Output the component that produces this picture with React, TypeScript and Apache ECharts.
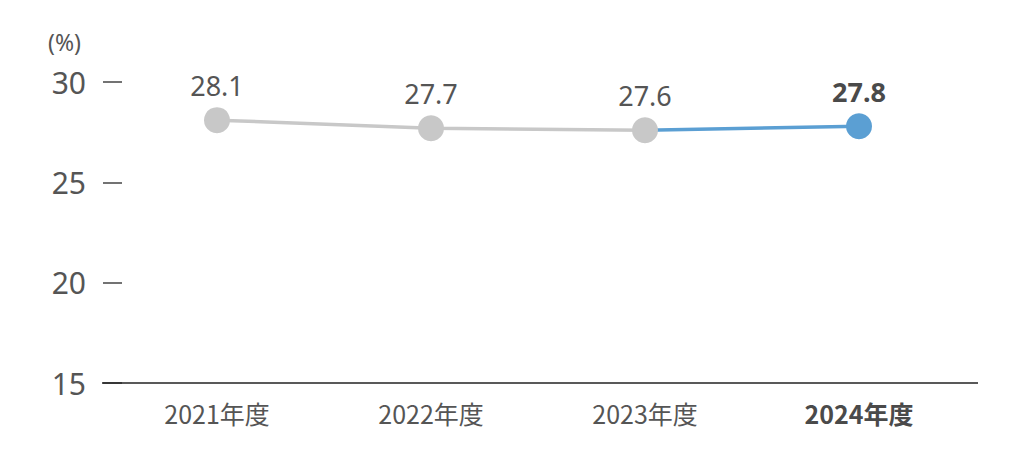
import React, { useEffect, useRef } from 'react'
import * as echarts from 'echarts'

const categories = ['2021年度', '2022年度', '2023年度', '2024年度']
const pastValues = [28.1, 27.7, 27.6, null]
const latestValues = [null, null, 27.6, 27.8]
const yTicks = [15, 20, 25, 30]

const GREY = '#c8c8c8'
const BLUE = '#5b9fd3'
const TEXT = '#555555'
const GRID_LEFT = 110
const GRID_RIGHT = 50
const GRID_TOP = 82
const GRID_BOTTOM = 85

const App: React.FC = () => {
    const chartRef = useRef<HTMLDivElement | null>(null)

    useEffect(() => {
        if (!chartRef.current) return
        const chart = echarts.init(chartRef.current, null, { renderer: 'svg' })
        const w = chartRef.current.clientWidth
        const h = chartRef.current.clientHeight

        const options: any = {
            animation: false,
            title: {
                text: '(%)',
                left: 48,
                top: 30,
                padding: 0,
                textStyle: { fontFamily: 'Noto Sans', fontSize: 23, fontWeight: 'normal', color: TEXT },
            },
            grid: { left: GRID_LEFT, right: GRID_RIGHT, top: GRID_TOP, bottom: GRID_BOTTOM, containLabel: false },
            xAxis: {
                type: 'category',
                data: categories,
                axisLine: { show: false },
                axisTick: { show: false },
                axisLabel: {
                    margin: 17,
                    fontFamily: 'Noto Sans CJK JP',
                    fontSize: 25,
                    color: TEXT,
                    formatter: (v: string, i: number) => (i === categories.length - 1 ? `{b|${v}}` : v),
                    rich: { b: { fontFamily: 'Noto Sans CJK JP', fontSize: 25, fontWeight: 'bold', color: '#4a4a4a' } },
                },
            },
            yAxis: {
                type: 'value',
                min: yTicks[0],
                max: yTicks[yTicks.length - 1],
                interval: 5,
                offset: -12,
                axisLine: { show: false },
                axisTick: { show: true, length: 19, lineStyle: { color: '#444', width: 1.5 } },
                splitLine: { show: false },
                axisLabel: { margin: 36, fontFamily: 'Noto Sans', fontSize: 30, color: TEXT },
            },
            graphic: [
                {
                    type: 'line',
                    shape: { x1: GRID_LEFT - 8, y1: h - GRID_BOTTOM, x2: w - GRID_RIGHT + 12, y2: h - GRID_BOTTOM },
                    style: { stroke: '#222', lineWidth: 1.5 },
                    z: 10,
                },
            ],
            series: [
                {
                    type: 'line',
                    data: latestValues.map((v, i) =>
                        i === latestValues.length - 1 ? v : { value: v, symbol: 'none', label: { show: false } }
                    ),
                    symbol: 'circle',
                    symbolSize: 26,
                    z: 2,
                    lineStyle: { color: BLUE, width: 3.5 },
                    itemStyle: { color: BLUE },
                    label: {
                        show: true,
                        position: 'top',
                        distance: 8,
                        fontFamily: 'Noto Sans',
                        fontSize: 27,
                        fontWeight: 'bold',
                        color: '#4a4a4a',
                    },
                },
                {
                    type: 'line',
                    data: pastValues,
                    symbol: 'circle',
                    symbolSize: 26,
                    z: 3,
                    lineStyle: { color: GREY, width: 3.5 },
                    itemStyle: { color: GREY },
                    label: {
                        show: true,
                        position: 'top',
                        distance: 8,
                        fontFamily: 'Noto Sans',
                        fontSize: 27,
                        color: TEXT,
                    },
                },
            ],
        }

        chart.setOption(options)

        return () => {
            chart.dispose()
        }
    }, [])

    return (
        <div
            ref={chartRef}
            style={{ position: 'absolute', left: 0, top: 0, width: '1016px', height: '468px', background: '#fff' }}
        />
    )
}

export default App
